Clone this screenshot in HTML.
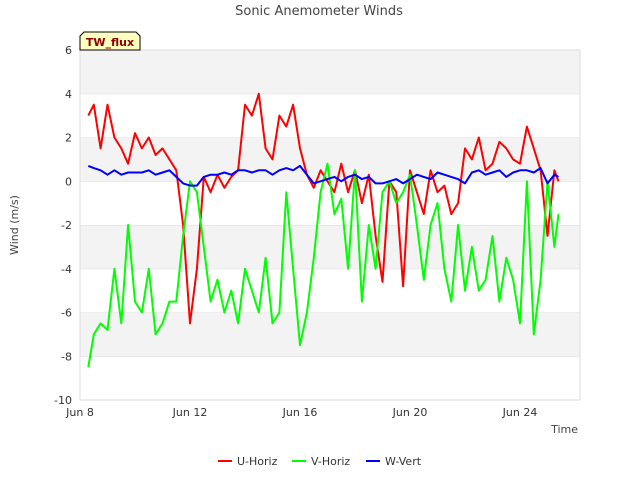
<!DOCTYPE html>
<html><head><meta charset="utf-8"><style>
body{margin:0;background:#fff;font-family:"Liberation Sans","DejaVu Sans",sans-serif}
svg text{font-family:"DejaVu Sans","Liberation Sans",sans-serif}
</style></head><body>
<svg id="chart" width="640" height="480" xmlns="http://www.w3.org/2000/svg">
<rect width="640" height="480" fill="#fff"/>
<text x="319" y="15" text-anchor="middle" font-size="13" fill="#444">Sonic Anemometer Winds</text>
<g id="bands"></g>
<rect x="80" y="50" width="500" height="350" fill="none" stroke="#ddd"/>
<g id="yticks"></g><g id="xticks"></g>
<g id="series"></g>
<text transform="translate(18,225) rotate(-90)" text-anchor="middle" font-size="11" fill="#444">Wind (m/s)</text>
<text x="578" y="433" text-anchor="end" font-size="11" fill="#444">Time</text>
<g>
<path d="M80,50 L80,36 L84,32 L136,32 L140,36 L140,50 Z" fill="#ffffc0" stroke="#000"/>
<text x="110" y="46" text-anchor="middle" font-size="11" font-weight="bold" fill="#8b0000">TW_flux</text>
</g>
<g>
<line x1="218" y1="461" x2="232" y2="461" stroke="#f00" stroke-width="2"/>
<text x="237" y="465" font-size="11" fill="#333">U-Horiz</text>
<line x1="292" y1="461" x2="306" y2="461" stroke="#0f0" stroke-width="2"/>
<text x="311" y="465" font-size="11" fill="#333">V-Horiz</text>
<line x1="366" y1="461" x2="380" y2="461" stroke="#00f" stroke-width="2"/>
<text x="385" y="465" font-size="11" fill="#333">W-Vert</text>
</g>
</svg>
<script>
const days=[8.3,8.5,8.75,9,9.25,9.5,9.75,10,10.25,10.5,10.75,11,11.25,11.5,11.75,12,12.25,12.5,12.75,13,13.25,13.5,13.75,14,14.25,14.5,14.75,15,15.25,15.5,15.75,16,16.25,16.5,16.75,17,17.25,17.5,17.75,18,18.25,18.5,18.75,19,19.25,19.5,19.75,20,20.25,20.5,20.75,21,21.25,21.5,21.75,22,22.25,22.5,22.75,23,23.25,23.5,23.75,24,24.25,24.5,24.75,25,25.25,25.4];
const uHoriz=[3.0,3.5,1.5,3.5,2.0,1.5,0.8,2.2,1.5,2.0,1.2,1.5,1.0,0.5,-2,-6.5,-4,0.2,-0.5,0.3,-0.3,0.2,0.5,3.5,3.0,4.0,1.5,1.0,3.0,2.5,3.5,1.5,0.3,-0.3,0.5,0.0,-0.5,0.8,-0.5,0.5,-1.0,0.3,-2.5,-4.6,0.0,-0.5,-4.8,0.5,-0.5,-1.5,0.5,-0.5,-0.2,-1.5,-1.0,1.5,1.0,2.0,0.5,0.8,1.8,1.5,1.0,0.8,2.5,1.5,0.5,-2.5,0.5,0.0];
const vHoriz=[-8.5,-7.0,-6.5,-6.8,-4.0,-6.5,-2.0,-5.5,-6.0,-4.0,-7.0,-6.5,-5.5,-5.5,-2.5,0.0,-0.5,-3.0,-5.5,-4.5,-6.0,-5.0,-6.5,-4.0,-5.0,-6.0,-3.5,-6.5,-6.0,-0.5,-4.0,-7.5,-6.0,-3.5,-0.5,0.8,-1.5,-0.8,-4.0,0.5,-5.5,-2.0,-4.0,-0.5,0.0,-1.0,-0.5,0.3,-2.0,-4.5,-2.0,-1.0,-4.0,-5.5,-2.0,-5.0,-3.0,-5.0,-4.5,-2.5,-5.5,-3.5,-4.5,-6.5,0.0,-7.0,-4.5,0.0,-3.0,-1.5];
const wVert=[0.7,0.6,0.5,0.3,0.5,0.3,0.4,0.4,0.4,0.5,0.3,0.4,0.5,0.2,-0.1,-0.2,-0.2,0.2,0.3,0.3,0.4,0.3,0.5,0.5,0.4,0.5,0.5,0.3,0.5,0.6,0.5,0.7,0.3,-0.1,0.0,0.1,0.2,0.0,0.2,0.3,0.1,0.2,-0.1,-0.1,0.0,0.1,-0.1,0.1,0.3,0.2,0.1,0.4,0.3,0.2,0.1,-0.1,0.4,0.5,0.3,0.4,0.5,0.2,0.4,0.5,0.5,0.4,0.6,-0.1,0.3,0.2];
const yTicks=[-10,-8,-6,-4,-2,0,2,4,6];
const xTickDays=[8,12,16,20,24];
const xTickLabels=["Jun 8","Jun 12","Jun 16","Jun 20","Jun 24"];
const NS="http://www.w3.org/2000/svg";
const X=d=>80+(d-8)*27.5;
const Y=v=>400-(v+10)*21.875;
function mk(tag,attrs,parent){const e=document.createElementNS(NS,tag);for(const k in attrs)e.setAttribute(k,attrs[k]);parent.appendChild(e);return e;}
const bands=document.getElementById('bands');
for(let i=0;i<yTicks.length-1;i++){
  const lo=yTicks[i],hi=yTicks[i+1];
  const r=mk('rect',{x:80,y:Y(hi),width:500,height:Y(lo)-Y(hi),fill:(i%2===1)?'#f3f3f3':'#fff'},bands);
  
  
  const g=mk('line',{x1:80,x2:580,y1:Y(hi),y2:Y(hi),stroke:'#ddd'},bands);
  
  
}
const yt=document.getElementById('yticks');
yTicks.forEach(v=>{
  const t=mk('text',{x:72,y:Y(v)+4,'text-anchor':'end','font-size':11,fill:'#333'},yt);
  t.textContent=v;
  
  
});
const xt=document.getElementById('xticks');
xTickDays.forEach((d,i)=>{
  const t=mk('text',{x:X(d),y:416,'text-anchor':'middle','font-size':11,fill:'#333'},xt);
  t.textContent=xTickLabels[i];
  
  
});
const sg=document.getElementById('series');
function line(vals,color,name){
  const p=mk('polyline',{points:vals.map((v,i)=>X(days[i]).toFixed(1)+','+Y(v).toFixed(1)).join(' '),fill:'none',stroke:color,'stroke-width':2,'stroke-linejoin':'round'},sg);
  
  
}
line(uHoriz,'#ff0000','u-horiz-line');
line(vHoriz,'#00ff00','v-horiz-line');
line(wVert,'#0000ff','w-vert-line');
</script>
</body></html>
